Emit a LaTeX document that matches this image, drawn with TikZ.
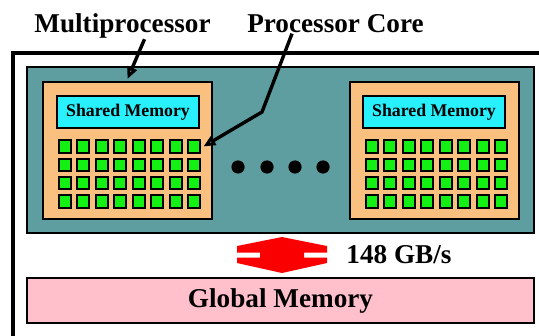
\documentclass[tikz,border=0pt]{standalone}
\usepackage{fontspec}
\setmainfont{Liberation Serif}
\usepackage{tikz}
\usetikzlibrary{arrows.meta}
\usetikzlibrary{positioning}
\tikzset{>={Triangle[fill=white,length=6pt,width=5pt]}}
\definecolor{mpteal}{RGB}{95,158,160}
\definecolor{smorange}{RGB}{250,192,128}
\definecolor{smcyan}{RGB}{40,240,252}
\definecolor{coregreen}{RGB}{20,240,20}
\definecolor{gmpink}{RGB}{255,192,203}
\definecolor{bwred}{RGB}{250,0,0}
\tikzset{
    biglabel/.style={inner sep=0pt, font=\fontsize{13.6}{16}\selectfont\bfseries},
    smbox/.style={draw, line width=1pt, fill=smorange, minimum width=84.5pt, minimum height=68.5pt},
    shmem/.style={draw, line width=1pt, fill=smcyan, inner sep=0pt, minimum width=71pt, minimum height=16pt, font=\fontsize{8.9}{10}\selectfont\bfseries},
    core/.style={draw, line width=1pt, fill=coregreen, inner sep=0pt, minimum size=6.2pt},
    pointer/.style={->, line width=1.7pt}
}

\begin{document}
\begin{tikzpicture}[x=0.5pt, y=-0.5pt]
        \useasboundingbox (0,0) rectangle (539,336);
        \draw [line width=1.8pt] (13,336) -- (13,53) -- (539,53);

        \node [draw, line width=1pt, fill=mpteal, minimum width=253.5pt, minimum height=83pt] (mp) at (280.5,150) {};
        \node [smbox] (sm1) at (127.5,150.5) {};
        \node [smbox] (sm2) at (434.5,150.5) {};
        \node [shmem] (shmem1) at (128,112) {Shared Memory};
        \node [shmem] (shmem2) at (434,112) {Shared Memory};

        \foreach \s in {1,2} {
            \foreach \r in {0,...,3} {
                \foreach \c in {0,...,7} {
                    \node [core] (core\s-\r-\c) at ([xshift=(\c-3.5)*9.25pt+1pt, yshift=2pt-\r*9.15pt]sm\s.center) {};
                }
            }
        }

        \foreach \x [count=\i] in {238,267,295,323}
            \node [circle, fill=black, inner sep=0pt, minimum size=6.6pt] (dot\i) at (\x,167) {};

        \node [draw, line width=1pt, fill=gmpink, biglabel, minimum width=253.5pt, minimum height=22.5pt] (gmem) at (280.5,300.5) {Global Memory};

        \coordinate (bw) at (282,255);
        \fill [bwred] (282,237) -- (327,246) -- (327,252.5) -- (304,252.5) -- (304,257.5) -- (327,257.5) -- (327,263)
            -- (282,273) -- (237,263) -- (237,257.5) -- (260,257.5) -- (260,252.5) -- (237,252.5) -- (237,246) -- cycle;
        \node [biglabel, right=32pt of bw] (bwlabel) {148 GB/s};

        \node [biglabel, anchor=base] (mplabel) at (122.5,33) {Multiprocessor};
        \node [biglabel, anchor=base] (pclabel) at (335.5,33) {Processor Core};
        \coordinate (pcbend) at (262,112);

        \draw [pointer] ([xshift=11pt]mplabel.south) -- ([yshift=1pt]sm1.north);
        \draw [pointer] ([xshift=-21.75pt]pclabel.south) -- (pcbend) -- ([xshift=1pt]core1-0-7.east);
    \end{tikzpicture}
\end{document}
